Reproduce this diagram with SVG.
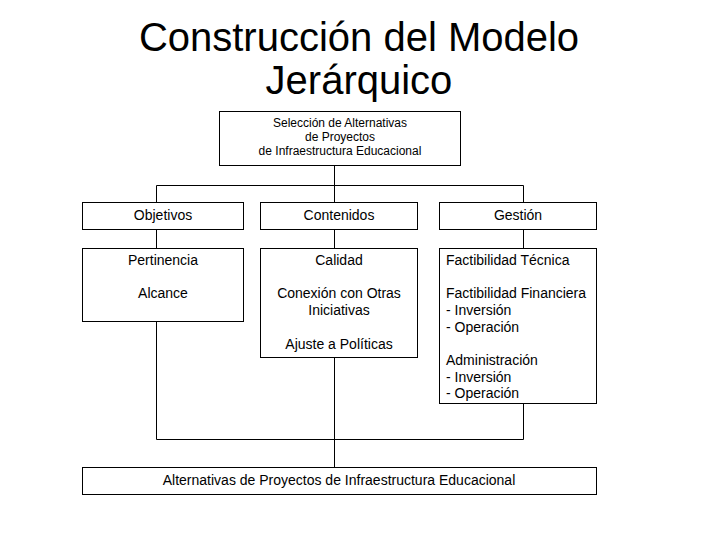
<svg xmlns="http://www.w3.org/2000/svg" width="720" height="540" viewBox="0 0 720 540">
<style>
.box{fill:#fff;stroke:#000;stroke-width:1}
.ln{fill:none;stroke:#000;stroke-width:1}
text{font-family:"Liberation Sans",Arial,sans-serif;fill:#000}
.t{font-size:40px;text-anchor:middle}
.s{font-size:12px;text-anchor:middle}
.m{font-size:14px;text-anchor:middle}
.l{font-size:14px}
</style>
<rect width="720" height="540" fill="#fff"/>
<g id="title">
<text class="t" x="359" y="51">Construcción del Modelo</text>
<text class="t" x="359" y="94">Jerárquico</text>
</g>
<g id="connectors">
<path class="ln" d="M334.5 165.5V202.5M156.5 185.5H523.5M156.5 185.5V202.5M523.5 185.5V202.5"/>
<path class="ln" d="M156.5 229.5V248.5M334.5 229.5V248.5M523.5 229.5V248.5"/>
<path class="ln" d="M156.5 321.5V439.5H523.5V403.5M334.5 357.5V467.5"/>
</g>
<g id="root">
<rect class="box" x="219.5" y="111.5" width="241" height="54"/>
<text class="s" x="340" y="127">Selección de Alternativas</text>
<text class="s" x="340" y="141">de Proyectos</text>
<text class="s" x="340" y="155">de Infraestructura Educacional</text>
</g>
<g id="objetivos">
<rect class="box" x="82.5" y="202.5" width="161" height="27"/>
<text class="m" x="163" y="220">Objetivos</text>
</g>
<g id="contenidos">
<rect class="box" x="260.5" y="202.5" width="157" height="27"/>
<text class="m" x="339" y="220">Contenidos</text>
</g>
<g id="gestion">
<rect class="box" x="439.5" y="202.5" width="157" height="27"/>
<text class="m" x="518" y="220">Gestión</text>
</g>
<g id="objetivos-items">
<rect class="box" x="82.5" y="248.5" width="161" height="73"/>
<text class="m" x="163" y="265">Pertinencia</text>
<text class="m" x="163" y="298">Alcance</text>
</g>
<g id="contenidos-items">
<rect class="box" x="260.5" y="248.5" width="157" height="109"/>
<text class="m" x="339" y="265">Calidad</text>
<text class="m" x="339" y="298">Conexión con Otras</text>
<text class="m" x="339" y="315">Iniciativas</text>
<text class="m" x="339" y="349">Ajuste a Políticas</text>
</g>
<g id="gestion-items">
<rect class="box" x="439.5" y="248.5" width="157" height="155"/>
<text class="l" x="446" y="265">Factibilidad Técnica</text>
<text class="l" x="446" y="298">Factibilidad Financiera</text>
<text class="l" x="446" y="315">- Inversión</text>
<text class="l" x="446" y="331.5">- Operación</text>
<text class="l" x="446" y="365">Administración</text>
<text class="l" x="446" y="381.5">- Inversión</text>
<text class="l" x="446" y="398">- Operación</text>
</g>
<g id="result">
<rect class="box" x="82.5" y="467.5" width="514" height="27"/>
<text class="m" x="339" y="484.5">Alternativas de Proyectos de Infraestructura Educacional</text>
</g>
</svg>
